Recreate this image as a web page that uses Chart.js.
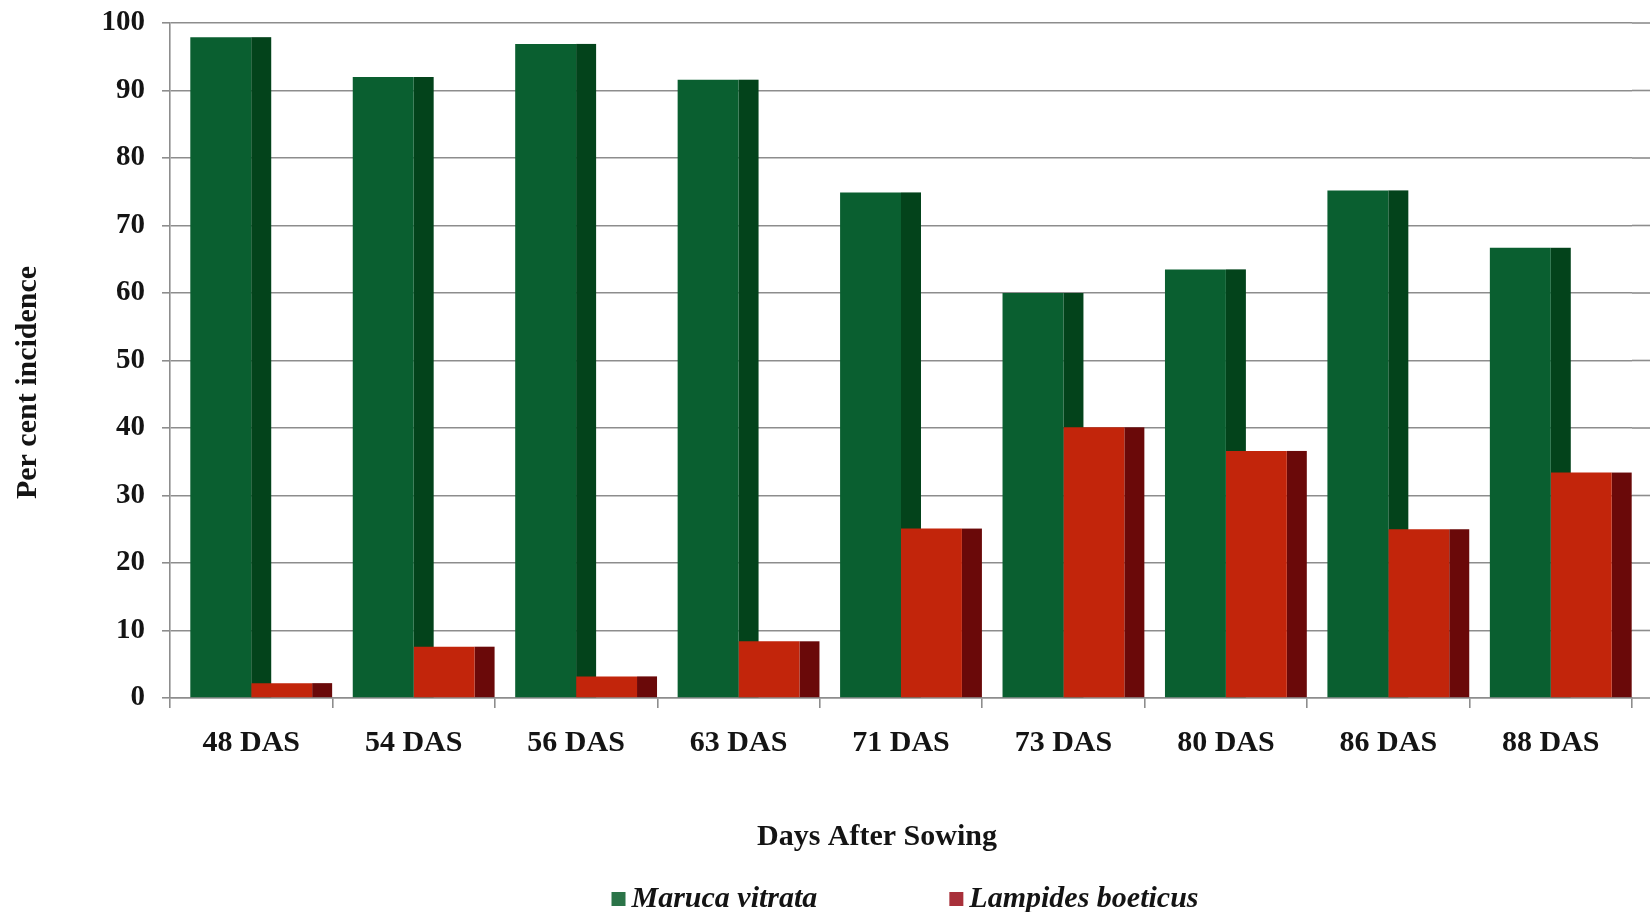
<!DOCTYPE html>
<html>
<head>
<meta charset="utf-8">
<title>Per cent incidence</title>
<script src="https://cdn.jsdelivr.net/npm/chart.js@4.4.0/dist/chart.umd.min.js"></script>
<style>
  html, body { margin: 0; padding: 0; background: #fff; overflow: hidden; }
  #wrap { width: 1650px; height: 912px; position: relative; }
</style>
</head>
<body>
<div id="wrap"><canvas id="chart"></canvas></div>
<script>
const days = ['48 DAS', '54 DAS', '56 DAS', '63 DAS', '71 DAS', '73 DAS', '80 DAS', '86 DAS', '88 DAS'];
const marucaVitrata = [97.9, 92.0, 96.9, 91.6, 74.9, 60.0, 63.5, 75.2, 66.7];
const lampidesBoeticus = [2.2, 7.6, 3.2, 8.4, 25.1, 40.1, 36.6, 25.0, 33.4];
const yTickValues = [0, 10, 20, 30, 40, 50, 60, 70, 80, 90, 100];

const SERIF = "'Liberation Serif', 'Times New Roman', serif";
const GRID = '#8d8d8d';
const INK = '#141414';

// dark right-hand face behind every column, drawn before the fronts so the
// next column in the group covers it
const sideFaces = {
    id: 'sideFaces',
    beforeDatasetsDraw(chart, args, opts) {
        const ctx = chart.ctx;
        chart.data.datasets.forEach((ds, i) => {
            const meta = chart.getDatasetMeta(i);
            ctx.save();
            ctx.fillStyle = ds.sideColor;
            meta.data.forEach(bar => {
                const p = bar.getProps(['x', 'y', 'base', 'width'], true);
                ctx.fillRect(p.x + p.width / 2, p.y, opts.depth, p.base - p.y);
            });
            ctx.restore();
        });
    }
};

// horizontal grid runs on a little past the last category
const gridTail = {
    id: 'gridTail',
    beforeDatasetsDraw(chart) {
        const ctx = chart.ctx;
        const y = chart.scales.y;
        const right = chart.chartArea.right;
        ctx.save();
        ctx.strokeStyle = GRID;
        ctx.lineWidth = 1.6;
        y.ticks.forEach(t => {
            const py = y.getPixelForValue(t.value);
            ctx.beginPath();
            ctx.moveTo(right, py);
            ctx.lineTo(chart.width, py);
            ctx.stroke();
        });
        ctx.restore();
    }
};

// axis titles, placed a bit off the plot centre
const axisTitles = {
    id: 'axisTitles',
    afterDraw(chart, args, opts) {
        const ctx = chart.ctx;
        const area = chart.chartArea;
        ctx.save();
        ctx.fillStyle = INK;
        ctx.font = opts.font;
        ctx.textAlign = 'center';
        ctx.textBaseline = 'middle';
        ctx.fillText(opts.xText, (area.left + area.right) / 2 + opts.xShift, opts.xTitleY);
        ctx.translate(opts.yTitleX, (area.top + area.bottom) / 2 + opts.yShift);
        ctx.rotate(-Math.PI / 2);
        ctx.fillText(opts.yText, 0, 0);
        ctx.restore();
    }
};

// legend row under the axis title, spaced wide apart
const bottomLegend = {
    id: 'bottomLegend',
    afterDraw(chart, args, opts) {
        const ctx = chart.ctx;
        ctx.save();
        ctx.font = opts.font;
        const items = chart.data.datasets.map(ds => ({
            text: ds.label,
            color: ds.legendColor,
            w: ctx.measureText(ds.label).width
        }));
        const total = items.reduce((s, it) => s + opts.box + opts.gap + it.w, 0) + opts.spacing * (items.length - 1);
        let x = (chart.chartArea.left + chart.chartArea.right) / 2 - total / 2 + opts.shift;
        ctx.textBaseline = 'middle';
        items.forEach(it => {
            ctx.fillStyle = it.color;
            ctx.fillRect(x, opts.y - opts.box / 2, opts.box, opts.box);
            x += opts.box + opts.gap;
            ctx.fillStyle = INK;
            ctx.fillText(it.text, x, opts.y);
            x += it.w + opts.spacing;
        });
        ctx.restore();
    }
};

const ctx = document.getElementById('chart').getContext('2d');
new Chart(ctx, {
    type: 'bar',
    data: {
        labels: days,
        datasets: [{
            label: 'Maruca vitrata',
            data: marucaVitrata,
            backgroundColor: '#0a5f30',
            sideColor: '#03431b',
            legendColor: '#2b7448',
            barPercentage: 1,
            categoryPercentage: 0.75
        }, {
            label: 'Lampides boeticus',
            data: lampidesBoeticus,
            backgroundColor: '#c2250b',
            sideColor: '#6a0909',
            legendColor: '#a8303a',
            barPercentage: 1,
            categoryPercentage: 0.75
        }]
    },
    options: {
        responsive: true,
        maintainAspectRatio: false,
        animation: false,
        layout: { padding: { left: 4, top: 23, right: 18, bottom: 0 } },
        plugins: {
            legend: { display: false },
            tooltip: { enabled: false },
            sideFaces: { depth: 20 },
            axisTitles: {
                font: 'bold 30px ' + SERIF,
                xText: 'Days After Sowing',
                yText: 'Per cent incidence',
                xShift: -24,
                xTitleY: 837,
                yTitleX: 28,
                yShift: 22
            },
            bottomLegend: {
                font: 'italic bold 30px ' + SERIF,
                box: 14, gap: 6, spacing: 132, y: 899, shift: 4
            }
        },
        scales: {
            x: {
                grid: { drawOnChartArea: false, drawTicks: true, tickLength: 10, color: GRID, lineWidth: 1.6 },
                border: { color: GRID, width: 1.6 },
                ticks: { color: INK, padding: 17, font: { family: SERIF, size: 30, weight: 'bold' } },
                afterFit(scale) { scale.height = 214; }
            },
            y: {
                min: 0,
                max: 100,
                afterBuildTicks(scale) { scale.ticks = yTickValues.map(v => ({ value: v })); },
                grid: { color: GRID, lineWidth: 1.6, tickLength: 8 },
                border: { color: GRID, width: 1.6 },
                ticks: { color: INK, padding: 17, font: { family: SERIF, size: 29, weight: 'bold' } },
                afterFit(scale) {
                    scale.width = 166;
                    scale.paddingTop = 0;
                    scale.paddingBottom = 0;
                }
            }
        }
    },
    plugins: [gridTail, sideFaces, axisTitles, bottomLegend]
});
</script>
</body>
</html>
